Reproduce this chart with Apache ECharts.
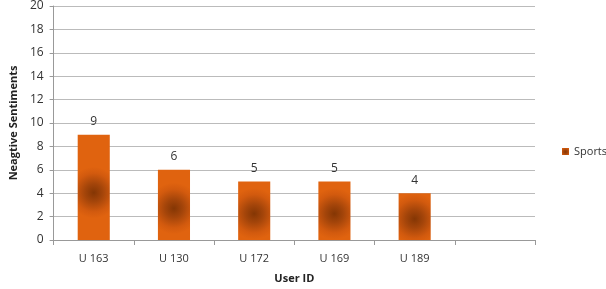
<!DOCTYPE html>
<html><head><meta charset="utf-8">
<script src="https://cdn.jsdelivr.net/npm/echarts@6/dist/echarts.min.js"></script>
<style>html,body{margin:0;padding:0;background:#fff}#c{width:606px;height:289px}</style>
</head><body><div id="c"></div>
<script>
var categories = ['U 163','U 130','U 172','U 169','U 189',''];
var sports = [9,6,5,5,4,null];
var yTicks = {min:0,max:20,interval:2};
var seriesName = 'Sports';

var chart = echarts.init(document.getElementById('c'));
var font = 'Open Sans, Noto Sans, sans-serif';
chart.setOption({
  animation:false,
  grid:{left:48,right:71,top:6,bottom:48},
  legend:{data:[seriesName],orient:'vertical',left:557,top:141,itemWidth:7,itemHeight:7,itemGap:4,
    textStyle:{fontFamily:font,fontSize:11,color:'#333'},
    icon:'rect'},
  xAxis:{type:'category',data:categories,
    name:'User ID',nameLocation:'middle',nameGap:33,
    nameTextStyle:{fontFamily:font,fontSize:11,fontWeight:'bold',color:'#222'},
    axisLine:{lineStyle:{color:'#999'}},
    axisTick:{show:true,alignWithLabel:false,length:5,lineStyle:{color:'#999'}},
    axisLabel:{fontFamily:font,fontSize:11,color:'#333',margin:13}},
  yAxis:{type:'value',min:yTicks.min,max:yTicks.max,interval:yTicks.interval,
    name:'Neagtive Sentiments',nameLocation:'middle',nameGap:33,nameRotate:90,
    nameTextStyle:{fontFamily:font,fontSize:11,fontWeight:'bold',color:'#222'},
    axisLine:{show:true,lineStyle:{color:'#999'}},
    axisTick:{show:true,length:4,lineStyle:{color:'#999'}},
    splitLine:{lineStyle:{color:'#bbb'}},
    axisLabel:{fontFamily:font,fontSize:12,color:'#333',margin:10}},
  series:[{name:seriesName,type:'bar',data:sports,barWidth:'40%',
    itemStyle:{color:new echarts.graphic.RadialGradient(0.5,0.55,0.8,[
      {offset:0,color:'#843604'},{offset:0.35,color:'#a4450a'},{offset:0.75,color:'#d25a0e'},{offset:1,color:'#e0630f'}])},
    label:{show:true,position:'top',distance:7,fontFamily:font,fontSize:12,color:'#333'}}]
});
</script></body></html>
